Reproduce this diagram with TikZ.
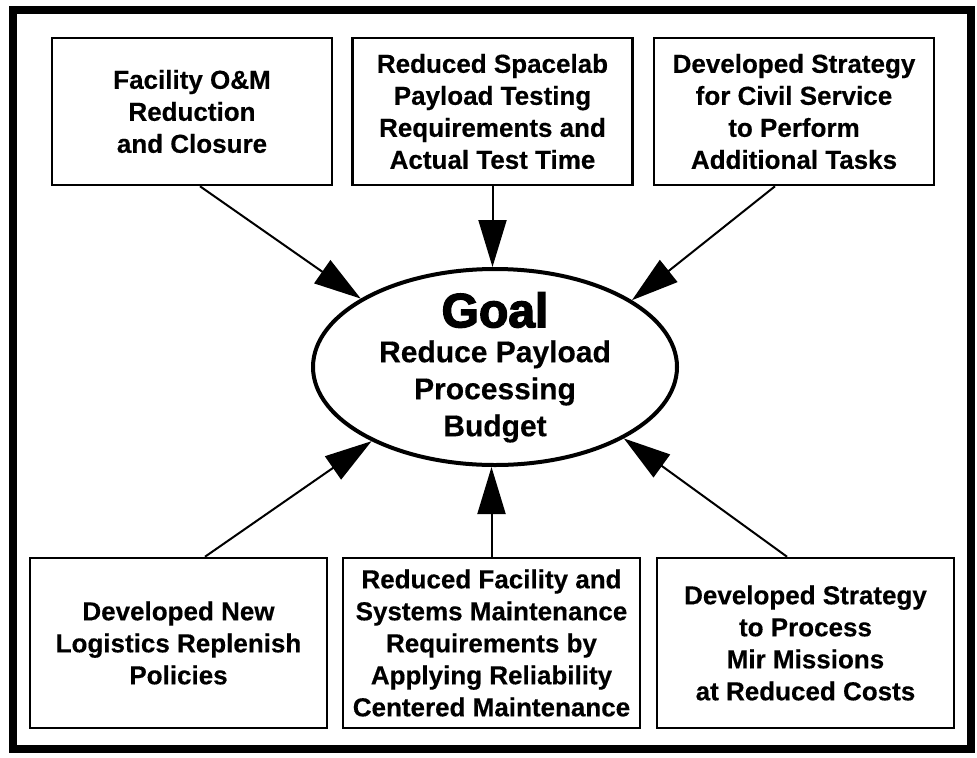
\documentclass[tikz,border=0pt]{standalone}
\usepackage{fontspec}
\setmainfont{Liberation Sans}[BoldFeatures={FakeBold=0.4}]
\newfontfamily\goalfont{Liberation Sans Bold}[FakeBold=3]
\usetikzlibrary{arrows.meta,shapes.geometric,calc}
\tikzset{
  boxtop/.style={draw, line width=1.9pt, minimum width=210pt, minimum height=110.25pt, inner sep=2pt, align=center,
    font=\bfseries\fontsize{19.5}{24}\selectfont},
  boxbot/.style={boxtop, minimum width=222.75pt, minimum height=127.5pt},
  goalshape/.style={draw, ellipse, line width=3pt, minimum width=273pt, minimum height=147pt, inner sep=0pt},
  arr/.style={line width=1.5pt, -{Triangle[length=35.25pt,width=21pt]}}
}
\begin{document}
\begin{tikzpicture}[x=0.75pt,y=-0.75pt]
\useasboundingbox (0,0) rectangle (977,757);
\draw[line width=6pt] (13,10) rectangle (971,749);

\node[boxtop] (b1) at (192,111.5) {Facility O\&M\\Reduction\\and Closure};
\node[boxtop] (b2) at (492.5,111.5) {Reduced Spacelab\\Payload Testing\\Requirements and\\Actual Test Time};
\node[boxtop] (b3) at (794,111.5) {Developed Strategy\\for Civil Service\\to Perform\\Additional Tasks};

\node[boxbot] (b4) at (178.5,643) {Developed New\\Logistics Replenish\\Policies};
\node[boxbot] (b5) at (491.5,643) {Reduced Facility and\\Systems Maintenance\\Requirements by\\Applying Reliability\\Centered Maintenance};
\node[boxbot] (b6) at (805.5,643) {Developed Strategy\\to Process\\Mir Missions\\at Reduced Costs};

\node[goalshape] (goal) at (495,367) {};
\node[align=center, inner sep=0pt, font=\bfseries\fontsize{22.5}{27.75}\selectfont] (goaltext) at (495,367.5)
  {{\goalfont\fontsize{36}{27.75}\selectfont Goal}\\[-1.5pt]Reduce Payload\\Processing\\Budget};

\draw[arr] ($(b1.south)+(8,0)$) -- (goal.153.9);
\draw[arr] (b2.south) -- (b2.south |- goal.north);
\draw[arr] ($(b3.south)+(-19,0)$) -- (goal.26.1);
\draw[arr] ($(b4.north)+(26.5,0)$) -- (goal.211.9);
\draw[arr] (b5.north) -- (b5.north |- goal.south);
\draw[arr] ($(b6.north)+(-18.5,0)$) -- (goal.-29.3);
\end{tikzpicture}
\end{document}
